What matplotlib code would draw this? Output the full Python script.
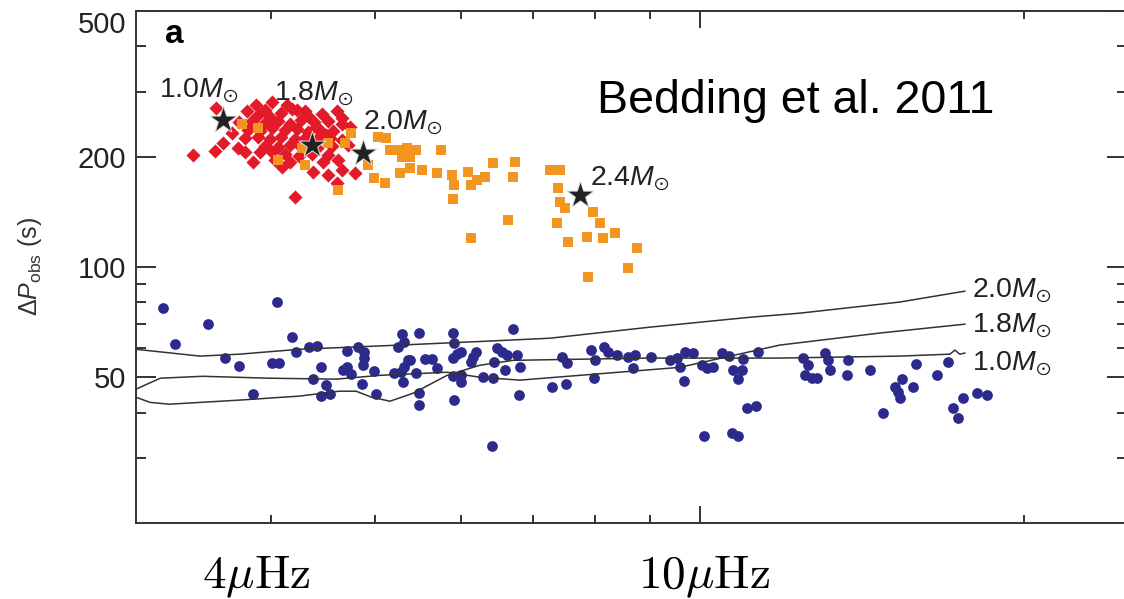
import matplotlib
matplotlib.use('Agg')
import matplotlib.pyplot as plt
from matplotlib.ticker import FixedLocator, NullFormatter

plt.rcParams['font.family'] = ['Liberation Sans', 'DejaVu Sans']
plt.rcParams['mathtext.fontset'] = 'custom'
plt.rcParams['mathtext.rm'] = 'Liberation Sans'
plt.rcParams['mathtext.it'] = 'Liberation Sans:italic'
plt.rcParams['mathtext.bf'] = 'Liberation Sans:bold'
plt.rcParams['mathtext.fallback'] = 'stixsans'

# 红巨星分支 (红色菱形)
rgb_x = [3.39, 3.55, 3.61, 3.56, 3.68, 3.73, 3.80, 3.88, 3.85, 4.01, 4.10, 4.17, 4.14, 4.23,
         4.61, 4.66, 4.74, 4.72, 4.47, 4.38, 4.52, 4.62, 4.66, 4.79, 4.61, 4.21, 3.79, 3.91, 4.01,
         3.89, 3.99, 4.09, 4.33, 4.46,
         3.74, 3.84, 3.95, 4.06, 4.17, 4.27, 4.39, 4.52, 4.66,
         3.81, 3.91, 4.01, 4.12, 4.23, 4.33, 4.44, 4.57,
         3.79, 3.89, 3.99, 4.09, 4.21, 4.31, 4.42, 4.54, 4.66,
         3.95, 4.06, 4.17, 4.27, 4.42, 4.56,
         4.12, 4.25, 4.37, 4.52,
         4.19, 4.30, 4.41, 4.50, 4.35, 3.95, 4.04]
rgb_y = [202, 207, 218, 272, 232, 211, 267, 277, 193, 282, 187, 193, 277, 268,
         267, 255, 241, 215, 193, 182, 178, 196, 184, 180, 170, 155, 206, 206, 206,
         260, 257, 263, 259, 262,
         249, 251, 247, 250, 246, 252, 248, 250, 245,
         237, 235, 239, 236, 238, 234, 237, 235,
         225, 227, 223, 226, 224, 227, 223, 225, 222,
         214, 212, 215, 213, 211, 214,
         203, 201, 204, 202,
         270, 266, 241, 229, 208, 268, 196]

# 红团簇 (橙色方块)
clump_x = [3.76, 3.89, 4.06, 4.28, 4.30, 4.52, 4.69, 4.75, 4.62, 4.92, 4.99, 5.11, 5.03, 5.12,
           5.16, 5.25, 5.35, 5.46, 5.29, 5.38, 5.27, 5.38, 5.52, 5.70, 5.76, 5.89, 5.92, 5.90,
           6.09, 6.14, 6.21, 6.32, 6.43, 6.74, 6.71, 6.64, 6.14, 7.26, 7.42, 7.38, 7.42, 7.50,
           7.37, 7.54, 7.96, 8.08, 8.34, 7.86, 8.13, 8.74, 8.57, 7.87]
clump_y = [246, 240, 196, 211, 190, 218, 218, 232, 162, 190, 175, 170, 226, 225,
           209, 209, 211, 209, 200, 200, 180, 186, 184, 180, 209, 178, 167, 153,
           182, 167, 173, 176, 192, 193, 176, 134, 120, 184, 184, 164, 150, 145,
           132, 117, 141, 132, 124, 121, 120, 113, 99.3, 93.8]

# 蓝色圆点
blue_x = [3.18, 3.26, 3.50, 3.63, 3.74, 3.85, 4.05, 4.01, 4.07, 4.19, 4.22, 4.34, 4.42, 4.45,
          4.38, 4.50, 4.45, 4.54, 4.71, 4.67, 4.71, 4.75, 4.82, 4.88, 4.88, 4.87, 4.86, 4.99,
          5.01, 5.29, 5.32, 5.25, 5.36, 5.39, 5.32, 5.21, 5.28, 5.31, 5.45, 5.49, 5.49, 5.49,
          5.56, 5.64, 5.71, 5.90, 5.92, 5.90, 5.96, 6.00, 5.90, 6.00, 6.00, 5.91, 6.13, 6.16,
          6.20, 6.29, 6.43, 6.48, 6.55, 6.45, 6.62, 6.77, 6.59, 6.81, 6.71, 6.80, 6.41, 7.30,
          7.51, 7.45, 7.53, 7.92, 7.99, 7.97, 8.15, 8.22, 8.38, 8.57, 8.70, 8.67, 9.01, 9.38,
          9.52, 9.69, 9.85, 9.58, 9.66, 10.04, 10.15, 10.28, 10.48, 10.64, 10.73, 10.94, 10.96,
          10.85, 11.32, 11.06, 11.27, 10.09, 10.71, 10.85, 12.46, 12.59, 12.51, 12.70, 12.84,
          13.06, 13.14, 13.20, 13.72, 13.69, 14.38, 14.78, 15.17, 15.27, 15.40, 15.76, 15.33,
          15.86, 16.59, 16.99, 17.17, 17.35, 17.54, 18.07, 18.46]
blue_y = [77.2, 61.5, 69.8, 56.3, 53.6, 44.9, 80.2, 54.6, 54.6, 64.3, 58.5, 60.4, 60.8, 53.2,
          49.4, 47.5, 44.4, 44.9, 58.9, 52.2, 53.2, 50.9, 60.4, 58.5, 56.3, 53.9, 47.8, 51.9,
          44.9, 65.5, 62.3, 60.4, 55.6, 55.6, 53.2, 51.3, 51.6, 48.4, 51.3, 66.0, 45.2, 41.9,
          56.0, 56.0, 52.9, 66.0, 61.9, 56.3, 57.8, 58.5, 50.3, 50.6, 48.4, 43.3, 54.9, 56.7,
          58.5, 50.0, 49.7, 60.0, 58.5, 54.9, 57.4, 57.4, 52.2, 53.2, 67.6, 44.6, 32.4, 46.9,
          47.8, 56.7, 54.6, 59.3, 55.6, 49.7, 60.4, 58.5, 57.4, 56.7, 57.4, 52.9, 56.7, 55.6,
          56.3, 58.5, 58.2, 53.2, 48.8, 53.9, 52.9, 53.2, 58.2, 57.1, 52.2, 52.2, 56.0,
          49.4, 58.5, 41.1, 41.6, 34.5, 35.2, 34.5, 56.3, 53.9, 50.6, 49.7, 49.7,
          58.2, 55.6, 52.2, 55.6, 50.6, 52.2, 39.9, 46.9, 45.5, 49.4, 46.9, 43.8,
          54.2, 50.6, 54.9, 41.1, 38.6, 43.8, 45.2, 44.6]

# 模型星 (黑色五角星)
star_x = [3.61, 4.37, 4.87, 7.74]
star_y = [252, 215, 205, 157]
star_labels = ['1.0', '1.8', '2.0', '2.4']
star_label_x = [3.15, 4.03, 4.87, 7.91]
star_label_y = [291, 285, 237, 167]

# 模型曲线
trk10_x = [3.00, 3.09, 3.22, 3.74, 4.25, 4.63, 4.80, 4.96, 5.16, 5.42, 5.83, 6.25, 6.71, 7.74,
           8.99, 11.86, 15.32, 17.06, 17.24, 17.42, 17.61]
trk10_y = [44.1, 42.7, 42.2, 43.3, 44.4, 45.8, 45.8, 44.1, 43.0, 45.2, 50.6, 53.9, 55.6, 56.0,
           56.4, 56.4, 57.1, 57.8, 59.3, 57.8, 58.2]
trk18_x = [3.00, 3.16, 3.46, 3.98, 4.60, 5.05, 5.83, 6.25, 6.81, 7.74, 9.58, 11.86, 14.68, 17.61]
trk18_y = [46.4, 49.7, 50.3, 49.7, 49.4, 50.6, 51.6, 50.0, 49.1, 50.6, 53.2, 61.2, 66.0, 69.8]
trk20_x = [3.00, 3.44, 3.74, 4.25, 5.27, 6.33, 7.26, 8.99, 11.13, 12.38, 15.32, 17.61]
trk20_y = [59.6, 57.1, 57.8, 59.6, 61.2, 62.7, 63.9, 68.5, 72.9, 74.8, 80.2, 85.9]
trk_labels = ['2.0', '1.8', '1.0']
trk_label_y = [82.7, 66.4, 52.3]

fig = plt.figure(figsize=(11.24, 5.99), dpi=100)
ax = fig.add_axes([0.1210, 0.1269, 0.8817, 0.8548])
ax.set_xscale('log')
ax.set_yscale('log')
ax.set_xlim(3.0, 24.9)
ax.set_ylim(20, 500)

ax.scatter(blue_x, blue_y, s=60, marker='o', color='#2d2a8e', linewidths=0, zorder=2)
for tx, ty in [(trk10_x, trk10_y), (trk18_x, trk18_y), (trk20_x, trk20_y)]:
    ax.plot(tx, ty, color='#333333', lw=1.1, zorder=3)
ax.scatter(rgb_x, rgb_y, s=52, marker='D', color='#e31a2a', linewidths=0, zorder=4)
ax.scatter(clump_x, clump_y, s=55, marker='s', color='#f3951e', linewidths=0, zorder=5)
ax.scatter(star_x, star_y, s=420, marker='*', color='#222222', edgecolors='#dddddd',
           linewidths=0.7, zorder=6)

msun = r'$M_{\odot}$'
for lab, lx, ly in zip(star_labels, star_label_x, star_label_y):
    ax.text(lx, ly, lab + msun, fontsize=20.5, color='#222222', va='baseline', zorder=7)
for lab, ly in zip(trk_labels, trk_label_y):
    ax.text(17.88, ly, lab + msun, fontsize=20.5, color='#222222', va='baseline', zorder=7)

# 坐标轴
ax.xaxis.set_major_locator(FixedLocator([10]))
ax.xaxis.set_minor_locator(FixedLocator([4, 5, 6, 7, 8, 9, 20]))
ax.xaxis.set_major_formatter(NullFormatter())
ax.xaxis.set_minor_formatter(NullFormatter())
ax.yaxis.set_major_locator(FixedLocator([50, 100, 200, 500]))
ax.yaxis.set_minor_locator(FixedLocator([30, 40, 60, 70, 80, 90, 300, 400]))
ax.set_yticklabels(['50', '100', '200', '500'])
ax.yaxis.set_minor_formatter(NullFormatter())
ax.tick_params(which='both', direction='in', top=True, right=True, color='#333333', width=1.4)
ax.tick_params(axis='y', which='major', length=14.5, labelsize=21, pad=7, labelcolor='#222222')
ax.tick_params(axis='y', which='minor', length=7.5)
ax.tick_params(axis='x', which='major', length=12)
ax.tick_params(axis='x', which='minor', length=6)
ax.get_yticklabels()[-1].set_va('top')
for sp in ax.spines.values():
    sp.set_linewidth(1.4)
    sp.set_color('#333333')

ax.set_ylabel(r'$\Delta P_{\rm obs}$ (s)', fontsize=18, color='#333333')
ax.yaxis.set_label_coords(-0.093, 0.5)

for xv, lab in [(3.88, r'$4\mu\mathrm{Hz}$'), (10.09, r'$10\mu\mathrm{Hz}$')]:
    ax.text(xv, -0.127, lab, transform=ax.get_xaxis_transform(), fontsize=34,
            math_fontfamily='cm', ha='center', va='baseline', color='black')

ax.text(0.029, 0.9375, 'a', transform=ax.transAxes, fontsize=24, fontweight='bold', va='baseline')
ax.text(0.465, 0.801, 'Bedding et al. 2011', transform=ax.transAxes, fontsize=33.5,
        va='baseline', color='black')

fig.savefig('out.png', dpi=100)
